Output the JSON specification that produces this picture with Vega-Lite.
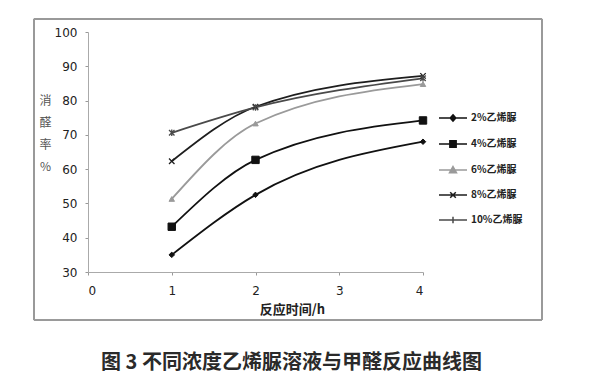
{
  "$schema": "https://vega.github.io/schema/vega-lite/v6.json",
  "width": 335,
  "height": 240,
  "autosize": {"type": "none"},
  "padding": {"left": 88, "top": 32, "right": 171, "bottom": 113},
  "background": "white",
  "config": {"view": {"stroke": null}, "font": "Noto Sans CJK SC"},
  "title": {
    "text": "图 3 不同浓度乙烯脲溶液与甲醛反应曲线图",
    "orient": "bottom",
    "anchor": "middle",
    "dx": 36,
    "offset": 32,
    "fontSize": 20,
    "fontWeight": "bold",
    "color": "#2a2a2a"
  },
  "data": {
    "values": [
      {"t": 1, "rate": 35.0, "series": "2%乙烯脲"},
      {"t": 2, "rate": 52.5, "series": "2%乙烯脲"},
      {"t": 4, "rate": 68.0, "series": "2%乙烯脲"},
      {"t": 1, "rate": 43.2, "series": "4%乙烯脲"},
      {"t": 2, "rate": 62.7, "series": "4%乙烯脲"},
      {"t": 4, "rate": 74.2, "series": "4%乙烯脲"},
      {"t": 1, "rate": 51.3, "series": "6%乙烯脲"},
      {"t": 2, "rate": 73.3, "series": "6%乙烯脲"},
      {"t": 4, "rate": 84.8, "series": "6%乙烯脲"},
      {"t": 1, "rate": 62.3, "series": "8%乙烯脲"},
      {"t": 2, "rate": 78.2, "series": "8%乙烯脲"},
      {"t": 4, "rate": 87.2, "series": "8%乙烯脲"},
      {"t": 1, "rate": 70.6, "series": "10%乙烯脲"},
      {"t": 2, "rate": 78.0, "series": "10%乙烯脲"},
      {"t": 4, "rate": 86.5, "series": "10%乙烯脲"}
    ]
  },
  "encoding": {
    "x": {
      "field": "t",
      "type": "quantitative",
      "scale": {"domain": [0, 4], "nice": false},
      "axis": {
        "values": [0, 1, 2, 3, 4],
        "format": "d",
        "title": "反应时间/h",
        "titleFontSize": 13,
        "titleFontWeight": "bold",
        "titleColor": "#222",
        "titleX": 204,
        "titleY": 37,
        "titleBaseline": "middle",
        "labelFontSize": 12,
        "labelColor": "#222",
        "labelFont": "DejaVu Sans",
        "labelPadding": 10,
        "tickSize": 3,
        "tickColor": "#999",
        "domainColor": "#aaa",
        "grid": false
      }
    },
    "y": {
      "field": "rate",
      "type": "quantitative",
      "scale": {"domain": [30, 100], "nice": false, "zero": false},
      "axis": {
        "values": [30, 40, 50, 60, 70, 80, 90, 100],
        "title": ["消", "醛", "率", "%"],
        "titleAngle": 0,
        "titleX": -43,
        "titleY": 68,
        "titleAlign": "center",
        "titleBaseline": "middle",
        "titleLineHeight": 22,
        "titleFontSize": 12,
        "titleFontWeight": "normal",
        "titleColor": "#555",
        "labelFontSize": 12,
        "labelColor": "#222",
        "labelFont": "DejaVu Sans",
        "labelPadding": 8,
        "tickSize": 3,
        "tickColor": "#999",
        "domainColor": "#aaa",
        "grid": false
      }
    }
  },
  "layer": [
    {
      "mark": {"type": "rect", "fill": null, "stroke": "#9a9a9a", "strokeWidth": 1, "clip": false},
      "encoding": {
        "x": {"datum": -0.645},
        "x2": {"datum": 5.42},
        "y": {"datum": 103.8},
        "y2": {"datum": 16.0}
      }
    },
    {
      "mark": {"type": "line", "interpolate": "monotone", "strokeWidth": 1.8},
      "encoding": {
        "color": {
          "field": "series",
          "type": "nominal",
          "scale": {
            "domain": ["2%乙烯脲", "4%乙烯脲", "6%乙烯脲", "8%乙烯脲", "10%乙烯脲"],
            "range": ["#111111", "#111111", "#9a9a9a", "#1e1e1e", "#4a4a4a"]
          },
          "legend": {
            "title": null,
            "orient": "none",
            "legendX": 357,
            "legendY": 78,
            "symbolSize": 196,
            "symbolType": "M-2,0H2",
            "symbolStrokeWidth": 1.5,
            "labelOffset": 10,
            "rowPadding": 11,
            "labelFontSize": 10,
            "labelFontWeight": "bold",
            "labelColor": "#222",
            "encode": {
              "symbols": {
                "update": {
                  "shape": {"signal": "datum.value === '2%乙烯脲' ? 'M-2,0H2M0,-0.45L0.4,0L0,0.45L-0.4,0Z' : datum.value === '4%乙烯脲' ? 'M-2,0H2M-0.45,-0.45H0.45V0.45H-0.45Z' : datum.value === '6%乙烯脲' ? 'M-2,0H2M0,-0.5L0.5,0.4H-0.5Z' : datum.value === '8%乙烯脲' ? 'M-2,0H2M-0.4,-0.4L0.4,0.4M-0.4,0.4L0.4,-0.4' : 'M-2,0H2M0,-0.45V0.45'"},
                  "fill": {"scale": "color", "field": "value"}
                }
              }
            }
          }
        }
      }
    },
    {
      "transform": [{"filter": "datum.series === '2%乙烯脲'"}],
      "mark": {"type": "point", "shape": "diamond", "size": 30, "filled": true, "fill": "#111111", "stroke": "#111111", "strokeWidth": 1, "opacity": 1}
    },
    {
      "transform": [{"filter": "datum.series === '4%乙烯脲'"}],
      "mark": {"type": "point", "shape": "square", "size": 55, "filled": true, "fill": "#111111", "stroke": "#111111", "strokeWidth": 1, "opacity": 1}
    },
    {
      "transform": [{"filter": "datum.series === '6%乙烯脲'"}],
      "mark": {"type": "point", "shape": "triangle-up", "size": 30, "filled": true, "fill": "#9a9a9a", "stroke": "#9a9a9a", "strokeWidth": 1, "opacity": 1}
    },
    {
      "transform": [{"filter": "datum.series === '8%乙烯脲'"}],
      "mark": {"type": "point", "shape": "M-1,-1L1,1M-1,1L1,-1", "size": 30, "filled": false, "stroke": "#1e1e1e", "strokeWidth": 1.3, "opacity": 1}
    },
    {
      "transform": [{"filter": "datum.series === '10%乙烯脲'"}],
      "mark": {"type": "point", "shape": "M-1,-1L1,1M-1,1L1,-1M0,-1.2V1.2", "size": 30, "filled": false, "stroke": "#4a4a4a", "strokeWidth": 1.3, "opacity": 1}
    }
  ]
}
